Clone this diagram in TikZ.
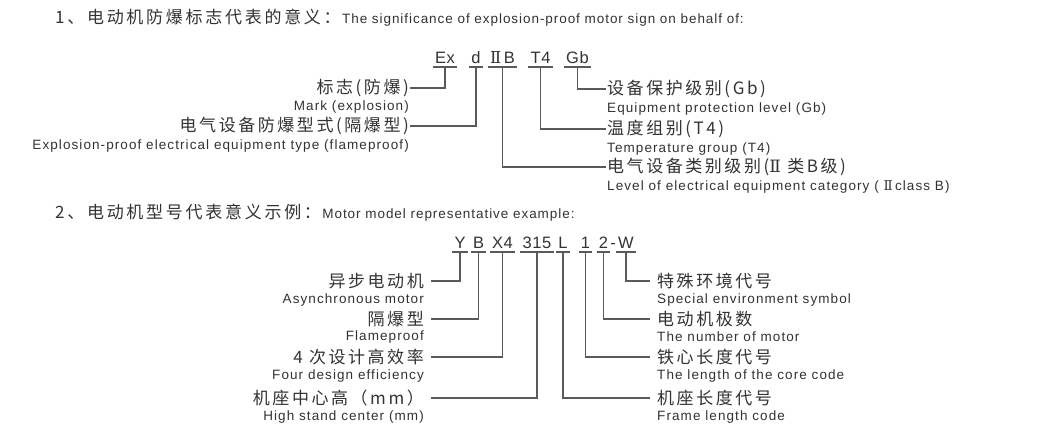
\documentclass[tikz,border=0pt]{standalone}
\usepackage{fontspec}
\setmainfont{Liberation Sans}
\newfontfamily\cnfont[LetterSpace=15]{Noto Sans CJK SC}
\newfontfamily\cnhead[LetterSpace=16]{Noto Sans CJK SC}
\newfontfamily\enfont[LetterSpace=8]{Liberation Sans}
\newfontfamily\enhead[LetterSpace=7]{Liberation Sans}
\newfontfamily\codefont[LetterSpace=4]{Liberation Sans}
\newfontfamily\rnfont{DejaVu Serif}
\usetikzlibrary{positioning}
\definecolor{tgray}{HTML}{333333}
\definecolor{lgray}{HTML}{5A5A5A}
\tikzset{
  x=1pt, y=-1pt,
  cn/.style={font=\fontsize{17}{19}\cnfont, text=tgray, inner sep=1pt},
  en/.style={font=\fontsize{13.5}{15}\enfont, text=tgray, inner sep=1pt},
  hcn/.style={font=\fontsize{17}{19}\cnhead, text=tgray, inner sep=0pt},
  hen/.style={font=\fontsize{13.5}{16}\enhead, text=tgray, inner sep=0pt},
  codepart/.style={font=\fontsize{16.5}{18}\codefont, text=tgray, anchor=south,
    inner xsep=2pt, inner ysep=0pt, text height=12pt, text depth=3.5pt},
  ul/.style={draw=lgray, line width=1.1pt},
  conn/.style={draw=lgray, line width=1.1pt},
}
\newcommand{\rn}{{\rnfont Ⅱ}}
\begin{document}
\begin{tikzpicture}
  \useasboundingbox[fill=white] (0,0) rectangle (1046,440);

  % 1: explosion-proof sign
  \node[hcn, anchor=west] (h1) at (55,17) {1、电动机防爆标志代表的意义：};
  \node[hen, anchor=base west] (h1en) at ([xshift=1pt]h1.base east) {The significance of explosion-proof motor sign on behalf of:};

  \node[codepart] (ex) at (445,67) {Ex};
  \node[codepart] (d) at (476,67) {d};
  \node[codepart] (iib) at (502.5,67) {\rn\,B};
  \node[codepart] (t4) at (540.5,67) {T4};
  \node[codepart] (gb) at (577.5,67) {Gb};
  \foreach \n in {ex,d,iib,t4,gb}
    \draw[ul] (\n.south west) -- (\n.south east);

  \node[cn, anchor=east] (mark) at (410,88) {标志(防爆)};
  \node[en, below=2pt of mark.south east, anchor=north east] (marken) {Mark (explosion)};
  \node[cn, anchor=east] (type) at (410,126) {电气设备防爆型式(隔爆型)};
  \node[en, below=2pt of type.south east, anchor=north east] (typeen) {Explosion-proof electrical equipment type (flameproof)};

  \node[cn, anchor=west] (prot) at (606,89) {设备保护级别(Gb)};
  \node[en, below=2pt of prot.south west, anchor=north west] (proten) {Equipment protection level (Gb)};
  \node[cn, anchor=west] (temp) at (606,129) {温度组别(T4)};
  \node[en, below=2pt of temp.south west, anchor=north west] (tempen) {Temperature group (T4)};
  \node[cn, anchor=west] (cat) at (606,167) {电气设备类别级别(\rn\ 类B级)};
  \node[en, below=2pt of cat.south west, anchor=north west] (caten) {Level of electrical equipment category ( \rn\,class B)};

  \draw[conn] (ex.south) |- (mark.east);
  \draw[conn] (d.south) |- (type.east);
  \draw[conn] (gb.south) |- (prot.west);
  \draw[conn] (t4.south) |- (temp.west);
  \draw[conn] (iib.south) |- (cat.west);

  % 2: motor model
  \node[hcn, anchor=west] (h2) at (55,212) {2、电动机型号代表意义示例：};
  \node[hen, anchor=base west] (h2en) at ([xshift=1pt]h2.base east) {Motor model representative example:};

  \node[codepart] (y) at (460,252) {Y};
  \node[codepart] (b) at (478.5,252) {B};
  \node[codepart] (x4) at (502.5,252) {X4};
  \node[codepart] (h315) at (537,252) {315};
  \node[codepart] (l) at (563,252) {L};
  \node[codepart] (one) at (585.5,252) {1};
  \node[codepart] (two) at (603.5,252) {2};
  \node[codepart, inner xsep=0pt] (dash) at (613,252) {-};
  \node[codepart] (w) at (626,252) {W};
  \foreach \n in {y,b,x4,h315,l,one,two,w}
    \draw[ul] (\n.south west) -- (\n.south east);

  \node[cn, anchor=east] (async) at (425,281) {异步电动机};
  \node[en, below=2pt of async.south east, anchor=north east] (asyncen) {Asynchronous motor};
  \node[cn, anchor=east] (flame) at (425,319) {隔爆型};
  \node[en, below=2pt of flame.south east, anchor=north east] (flameen) {Flameproof};
  \node[cn, anchor=east] (eff) at (425,357) {4 次设计高效率};
  \node[en, below=2pt of eff.south east, anchor=north east] (effen) {Four design efficiency};
  \node[cn, anchor=east] (centre) at (425,398) {机座中心高（mm）};
  \node[en, below=2pt of centre.south east, anchor=north east] (centreen) {High stand center (mm)};

  \node[cn, anchor=west] (env) at (656,281) {特殊环境代号};
  \node[en, below=2pt of env.south west, anchor=north west] (enven) {Special environment symbol};
  \node[cn, anchor=west] (poles) at (656,319) {电动机极数};
  \node[en, below=2pt of poles.south west, anchor=north west] (polesen) {The number of motor};
  \node[cn, anchor=west] (core) at (656,357) {铁心长度代号};
  \node[en, below=2pt of core.south west, anchor=north west] (coreen) {The length of the core code};
  \node[cn, anchor=west] (frame) at (656,398) {机座长度代号};
  \node[en, below=2pt of frame.south west, anchor=north west] (frameen) {Frame length code};

  \draw[conn, shorten >=6pt] (y.south) |- (async.east);
  \draw[conn, shorten >=6pt] (b.south) |- (flame.east);
  \draw[conn, shorten >=6pt] (x4.south) |- (eff.east);
  \draw[conn, shorten >=6pt] (h315.south) |- (centre.east);
  \draw[conn, shorten >=6pt] (w.south) |- (env.west);
  \draw[conn, shorten >=6pt] (two.south) |- (poles.west);
  \draw[conn, shorten >=6pt] (one.south) |- (core.west);
  \draw[conn, shorten >=6pt] (l.south) |- (frame.west);
\end{tikzpicture}
\end{document}
